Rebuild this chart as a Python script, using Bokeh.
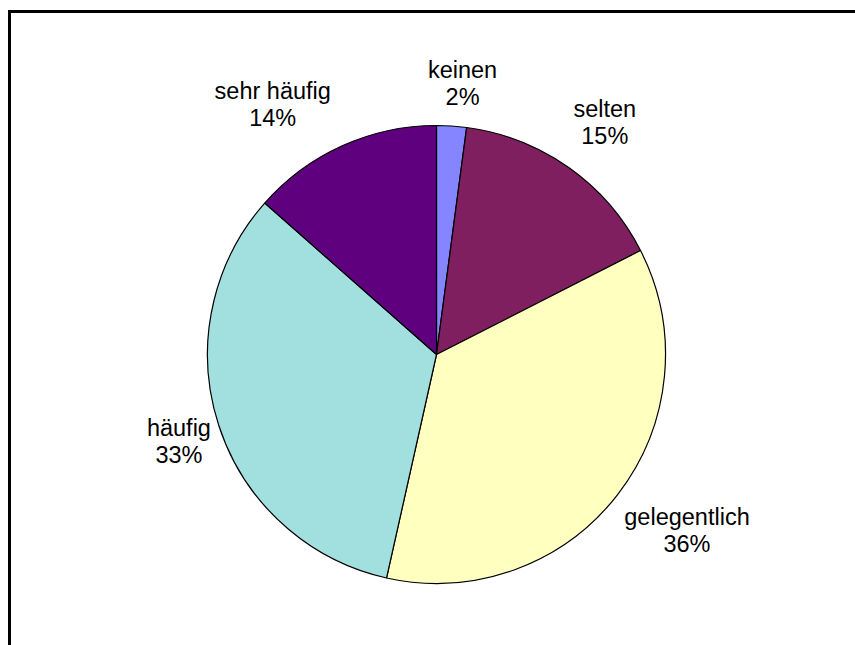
import math
from bokeh.plotting import figure
from bokeh.models import Range1d, ColumnDataSource
from bokeh.core.properties import value
from bokeh.embed import file_html
from bokeh.resources import INLINE

# ---- data ----
categories = ["keinen", "selten", "gelegentlich", "häufig", "sehr häufig"]
shares = [2.1, 15.4, 36.0, 33.0, 13.5]
pct_labels = ["2%", "15%", "36%", "33%", "14%"]
colors = ["#8585FF", "#7F1F5F", "#FFFFC0", "#A2DFDF", "#5F007F"]

# ---- layout ----
W, H = 855, 645
CX, CY, R = 436, H - 354, 229
LABEL_R = R + 45
label_nudge_x = [8, 10, 34, 3, -51]
label_nudge_y = [2, -8, 8, 2, 0]
FONT = value("Liberation Sans")
FS = "23.5px"

total = sum(shares)
starts, ends, mids = [], [], []
acc = 0.0
for s in shares:
    a0 = acc / total
    acc += s
    a1 = acc / total
    starts.append(math.pi / 2 - 2 * math.pi * a0)
    ends.append(math.pi / 2 - 2 * math.pi * a1)
    mids.append(2 * math.pi * (a0 + a1) / 2)

src = ColumnDataSource(dict(cat=categories, val=shares, start=starts, end=ends, color=colors))

lx = [CX + LABEL_R * math.sin(m) for m in mids]
ly = [CY + LABEL_R * math.cos(m) for m in mids]
lab = ColumnDataSource(dict(
    x=lx, y=ly, name=categories, pct=pct_labels,
    xo=label_nudge_x,
    yo1=[n - 13.5 for n in label_nudge_y],
    yo2=[n + 13.5 for n in label_nudge_y],
))

p = figure(width=W, height=H, x_range=Range1d(0, W), y_range=Range1d(0, H),
           output_backend="svg", toolbar_location=None, min_border=0)
p.axis.visible = False
p.grid.visible = False
p.outline_line_color = None
p.background_fill_color = "white"
p.border_fill_color = "white"

# chart-area frame (left and top edges visible)
p.segment(x0=[9, 7.5], y0=[-20, H - 11], x1=[9, W + 20], y1=[H - 9.5, H - 11],
          line_color="black", line_width=3)

p.wedge(x=CX, y=CY, radius=R, start_angle="start", end_angle="end",
        direction="clock", fill_color="color", line_color="black",
        line_width=1.2, source=src)

p.text(x="x", y="y", text="name", x_offset="xo", y_offset="yo1", source=lab,
       text_font=FONT, text_font_size=FS, text_align="center",
       text_baseline="middle", text_color="black")
p.text(x="x", y="y", text="pct", x_offset="xo", y_offset="yo2", source=lab,
       text_font=FONT, text_font_size=FS, text_align="center",
       text_baseline="middle", text_color="black")

open("out.html", "w").write(file_html(p, INLINE))
